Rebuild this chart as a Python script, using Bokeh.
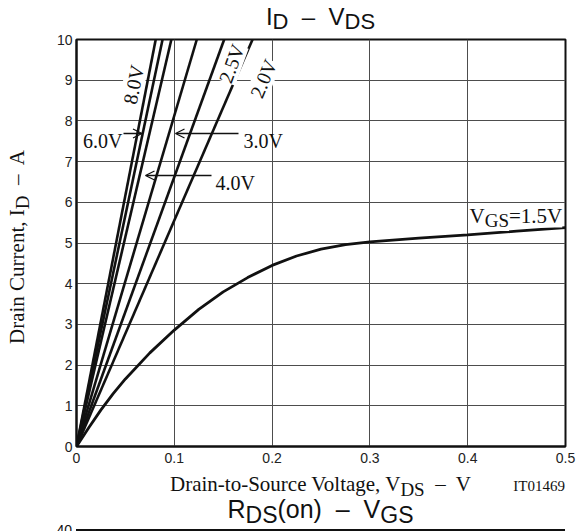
from bokeh.plotting import figure
from bokeh.models import Label, Arrow, OpenHead, FixedTicker, Div
from bokeh.layouts import row, column
from bokeh.embed import file_html
from bokeh.resources import INLINE

# ---------------- data ----------------
vds_ticks = [0, 0.1, 0.2, 0.3, 0.4, 0.5]
vds_tick_labels = ["0", "0.1", "0.2", "0.3", "0.4", "0.5"]
id_ticks = [0, 1, 2, 3, 4, 5, 6, 7, 8, 9, 10]

# straight (linear-region) curves: VDS reached at ID = 10 A
line_vgs = ["8.0V", "6.0V", "4.0V", "3.0V", "2.5V", "2.0V"]
line_vds_at_10a = [0.081, 0.088, 0.097, 0.123, 0.151, 0.180]
line_id_top = 10

# VGS = 1.5 V curve
curve_vds = [0, 0.0125, 0.025, 0.0375, 0.05, 0.075, 0.1, 0.125, 0.15, 0.175, 0.2,
             0.225, 0.25, 0.275, 0.3, 0.35, 0.4, 0.45, 0.5]
curve_id = [0, 0.46, 0.9, 1.3, 1.66, 2.3, 2.86, 3.37, 3.8, 4.15, 4.45,
            4.68, 4.85, 4.96, 5.03, 5.12, 5.2, 5.29, 5.38]

# ---------------- page geometry (page pixels) ----------------
W, H = 580, 531
YLAB_W = 40            # strip holding the rotated y label
TITLE_H = 33           # strip holding the title
BOTTOM_H = 60          # strip holding x label and the next chart heading
L, R = 76, 15          # frame left / right on the page
FT, FB = 39, 446       # frame top / bottom on the page
MAIN_W = W - YLAB_W
MAIN_H = H - TITLE_H - BOTTOM_H
X0, X1, Y0, Y1 = 0, 0.5, 0, 10
FW = W - R - L
FH = FB - FT

def px2x(px):
    return X0 + (px - L) * (X1 - X0) / FW

def py2y(py):
    return Y0 + (FB - py) * (Y1 - Y0) / FH

SERIF = "Liberation Serif"
SANS = "Liberation Sans"
INK = "#111111"

# ---------------- main chart ----------------
p = figure(width=MAIN_W, height=MAIN_H, x_range=(X0, X1), y_range=(Y0, Y1),
           output_backend="svg", toolbar_location=None, title=None,
           min_border_left=L - YLAB_W, min_border_right=R,
           min_border_top=FT - TITLE_H, min_border_bottom=MAIN_H - (FT - TITLE_H) - FH)
p.background_fill_color = "white"
p.border_fill_color = "white"
p.outline_line_color = INK
p.outline_line_width = 2

p.xaxis.ticker = FixedTicker(ticks=vds_ticks)
p.yaxis.ticker = FixedTicker(ticks=id_ticks)
p.xaxis.major_label_overrides = {t: s for t, s in zip(vds_ticks, vds_tick_labels)}
for ax in (p.xaxis[0], p.yaxis[0]):
    ax.major_tick_in = 0
    ax.major_tick_out = 0
    ax.minor_tick_in = 0
    ax.minor_tick_out = 0
    ax.axis_line_color = INK
    ax.axis_line_width = 2
    ax.major_label_text_font = SANS
    ax.major_label_text_font_size = "14px"
    ax.major_label_text_color = "#222222"
p.xaxis.major_label_standoff = 6
p.yaxis.major_label_standoff = 4

p.xgrid.grid_line_color = "#4d4d4d"
p.ygrid.grid_line_color = "#4d4d4d"
p.xgrid.grid_line_width = 1
p.ygrid.grid_line_width = 1

p.multi_line(xs=[[0, v] for v in line_vds_at_10a],
             ys=[[0, line_id_top] for _ in line_vds_at_10a],
             line_color=INK, line_width=2.6)
p.line(curve_vds, curve_id, line_color=INK, line_width=2.8)


def mlab(text, px, py, size, font=SERIF, angle=0, align="left", bg=False):
    lbl = Label(x=px2x(px), y=py2y(py), text=text, text_font=font,
                text_font_size=f"{size}px", text_align=align,
                text_baseline="alphabetic", angle=angle, angle_units="deg",
                text_color=INK)
    if bg:
        lbl.background_fill_color = "white"
    p.add_layout(lbl)


# curve labels
mlab("8.0V", 133, 84, 20, angle=79, align="center", bg=True)
mlab("2.5V", 231, 63, 20, angle=70, align="center", bg=True)
mlab("2.0V", 263, 78, 20, angle=67, align="center", bg=True)
mlab("6.0V", 122, 140, 20, align="right")
mlab("3.0V", 243, 140, 20)
mlab("4.0V", 215, 182, 20)
mlab("V", 469, 215, 21, bg=True)
mlab("GS", 484.2, 220, 19, bg=True)
mlab("=1.5V", 508.5, 215, 21, bg=True)

for (xs, xe, py) in [(123, 141.5, 133), (238, 175, 133), (211, 145, 175)]:
    p.add_layout(Arrow(x_start=px2x(xs), y_start=py2y(py), x_end=px2x(xe), y_end=py2y(py),
                       line_color=INK, line_width=1.3,
                       end=OpenHead(size=9, line_width=1.3, line_color=INK)))


# ---------------- HTML text strips ----------------
ASC = {SANS: (0.905, 0.212), SERIF: (0.891, 0.216)}

def top_for_baseline(b, size, font):
    a, d = ASC[font]
    return b - size * (1 + a - d) / 2

def sub(text, size, dy=5):
    return f'<span style="font-size:{size}px;position:relative;top:{dy}px">{text}</span>'

def block(html, left, baseline, size, font, anchor="left", rotate=False):
    top = top_for_baseline(baseline, size, font)
    if rotate:
        tf = "translate(-50%,-50%) rotate(-90deg)"
        top = baseline
    elif anchor == "center":
        tf = "translateX(-50%)"
    elif anchor == "right":
        tf = "translateX(-100%)"
    else:
        tf = "none"
    return (f'<div style="position:absolute;left:{left:.1f}px;top:{top:.1f}px;'
            f"font-family:'{font}';font-size:{size}px;line-height:{size}px;"
            f'white-space:pre;color:{INK};transform:{tf}">{html}</div>')

def strip(w, h, inner):
    html = (f'<div style="position:relative;width:{w}px;height:{h}px;overflow:hidden;'
            f'background:white">{inner}</div>')
    return Div(text=html, width=w, height=h, margin=(0, 0, 0, 0))

DASH = "\u2013"
frame_cx = (L + W - R) / 2

# title strip (page offset x = YLAB_W, y = 0)
ox = YLAB_W
title_html = block("I" + sub("D", 22, 4) + f"  {DASH}  V" + sub("DS", 22, 4),
                   frame_cx - ox, 25.5, 24, SANS, anchor="center")
title_div = strip(MAIN_W, TITLE_H, title_html)

# y label strip (page offset 0, 0)
ylab_html = block(f"Drain Current, I" + sub("D", 19) + f"  {DASH}  A",
                  17, (FT + FB) / 2 + 4, 21, SERIF, rotate=True)
ylab_div = strip(YLAB_W, H, ylab_html)

# bottom strip (page offset x = YLAB_W, y = H - BOTTOM_H)
oy = H - BOTTOM_H
bottom_html = (
    block("Drain-to-Source Voltage, V" + sub("DS", 19) + f"  {DASH}  V",
          frame_cx - ox, 492 - oy, 21, SERIF, anchor="center")
    + block("IT01469", (W - R) - ox, 492 - oy, 15, SERIF, anchor="right")
    + block("R" + sub("DS", 23) + f"(on)  {DASH}  V" + sub("GS", 23),
            frame_cx - ox, 518 - oy, 25, SANS, anchor="center")
    + block("40", (L - 4) - ox, 535 - oy, 14, SANS, anchor="right")
    + f'<div style="position:absolute;left:{L - ox}px;top:{529 - oy}px;'
      f'width:{FW}px;height:2px;background:{INK}"></div>'
)
bottom_div = strip(MAIN_W, BOTTOM_H, bottom_html)

layout = row(ylab_div, column(title_div, p, bottom_div, spacing=0), spacing=0)
open("out.html", "w").write(file_html(layout, INLINE))
